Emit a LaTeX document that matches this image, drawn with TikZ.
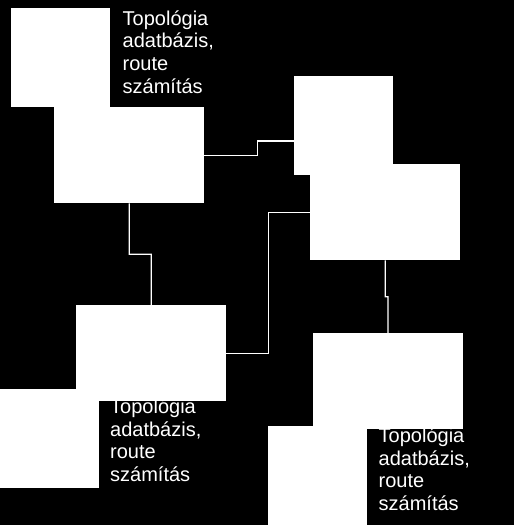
\documentclass[tikz,border=0pt]{standalone}
\usepackage{fontspec}
\setmainfont{Liberation Sans}
\usetikzlibrary{calc}
\begin{document}
\begin{tikzpicture}[x=1pt,y=-1pt,
  smallbox/.style={fill=white,draw=none,inner sep=0pt,anchor=north west,minimum width=98.5pt,minimum height=98.5pt},
  bigbox/.style={fill=white,draw=none,inner sep=0pt,anchor=north west,minimum width=150pt,minimum height=96pt},
  label/.style={text=white,inner sep=0pt,anchor=base west,align=left,font=\fontsize{20pt}{22.7pt}\selectfont},
  conn/.style={draw=white,line width=1.1pt}]
\useasboundingbox (0,0) rectangle (514,525);
\fill[black] (0,0) rectangle (514,525);
% small boxes
\node[smallbox] (S1) at (11,8) {};
\node[smallbox] (S2) at (294,76) {};
\node[smallbox] (S3) at (0,389) {};
\node[smallbox,minimum height=102pt] (S4) at (268,426) {};
% labels (base anchor = last line's baseline)
\node[label] (L1) at (122.5,93.1) {Topológia\\adatbázis,\\route\\számítás};
\node[label] (L2) at (110,481.6) {Topológia\\adatbázis,\\route\\számítás};
\node[label] (L3) at (378.5,510.6) {Topológia\\adatbázis,\\route\\számítás};
% big boxes
\node[bigbox] (A) at (54,107) {};
\node[bigbox] (B) at (310,164) {};
\node[bigbox] (C) at (76,305) {};
\node[bigbox,minimum width=149.5pt] (D) at (313,333) {};
% connectors
\draw[conn] (A.east) -- ++(53,0) |- ([yshift=-15.5pt]S2.west);
\draw[conn] (A.south) -- ($(A.south)!0.5!(A.south|-C.north)$) -| (C.north);
\draw[conn] (C.east) -- ++(42.3,0) |- (B.west);
\draw[conn] (B.south) -- ($(B.south)!0.5!(B.south|-D.north)$) -| (D.north);
\end{tikzpicture}
\end{document}
